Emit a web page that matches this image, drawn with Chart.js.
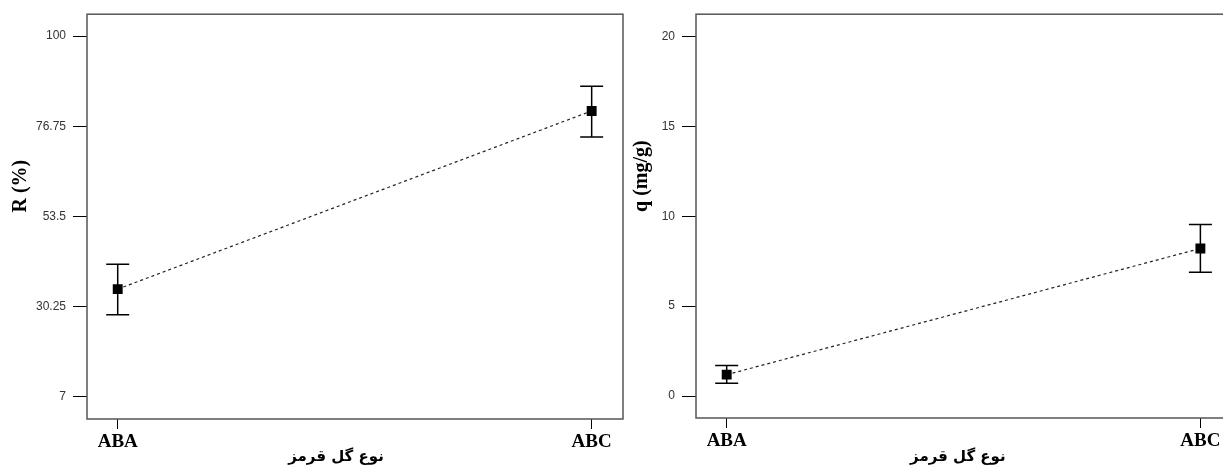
<!DOCTYPE html>
<html>
<head>
<meta charset="utf-8">
<script src="https://cdn.jsdelivr.net/npm/chart.js@4"></script>
<style>
    html, body { margin: 0; padding: 0; background: #fff; overflow: hidden; width: 1223px; height: 469px; }
    canvas { position: absolute; top: 0; }
    #chartR { left: 0; }
    #chartQ { left: 630px; }
</style>
</head>
<body>
<canvas id="chartR" width="630" height="469"></canvas>
<canvas id="chartQ" width="620" height="469"></canvas>
<script>
// ── Data ─────────────────────────────────────────────────
const categories = ['ABA', 'ABC'];
const catPos     = [0, 1];

const rMean  = [34.7, 80.7];
const rLow   = [28.1, 74.0];
const rHigh  = [41.1, 87.1];
const rTicks = [7, 30.25, 53.5, 76.75, 100];

const qMean  = [1.19, 8.21];
const qLow   = [0.71, 6.88];
const qHigh  = [1.70, 9.54];
const qTicks = [0, 5, 10, 15, 20];

const xTitle = 'نوع گل قرمز';

// ── Plugins ──────────────────────────────────────────────
// frame round the plot area
const framePlugin = {
    id: 'frame',
    afterDraw(chart) {
        const { ctx, chartArea: a } = chart;
        ctx.save();
        ctx.strokeStyle = '#555';
        ctx.lineWidth = 1.5;
        ctx.strokeRect(a.left, a.top, a.right - a.left, a.bottom - a.top);
        ctx.restore();
    }
};

// vertical error bars with caps, read from dataset.errLow / errHigh
const errorBarPlugin = {
    id: 'errorBars',
    afterDatasetsDraw(chart) {
        const { ctx, scales: { x, y } } = chart;
        ctx.save();
        ctx.strokeStyle = '#000';
        ctx.lineWidth = 1.5;
        chart.data.datasets.forEach(ds => {
            ds.data.forEach((p, i) => {
                const px = x.getPixelForValue(p.x);
                const lo = y.getPixelForValue(ds.errLow[i]);
                const hi = y.getPixelForValue(ds.errHigh[i]);
                ctx.beginPath();
                ctx.moveTo(px, lo); ctx.lineTo(px, hi);
                ctx.moveTo(px - 11.5, lo); ctx.lineTo(px + 11.5, lo);
                ctx.moveTo(px - 11.5, hi); ctx.lineTo(px + 11.5, hi);
                ctx.stroke();
            });
        });
        ctx.restore();
    }
};

// axis titles placed relative to the plot area
const axisTitlePlugin = {
    id: 'axisTitles',
    afterDraw(chart, args, opts) {
        const { ctx, chartArea: a } = chart;
        ctx.save();
        ctx.fillStyle = '#000';
        ctx.textAlign = 'center';
        ctx.textBaseline = 'middle';
        // x title
        ctx.direction = 'rtl';
        ctx.font = 'bold 15px "DejaVu Sans"';
        ctx.fillText(opts.xText, (a.left + a.right) / 2 + opts.xdx, a.bottom + opts.xdy);
        // y title
        ctx.direction = 'ltr';
        ctx.font = 'bold 20px "Liberation Serif"';
        ctx.translate(opts.yx, (a.top + a.bottom) / 2 + opts.ydy);
        ctx.rotate(-Math.PI / 2);
        ctx.fillText(opts.yText, 0, 0);
        ctx.restore();
    }
};

// ── Chart builder ────────────────────────────────────────
function makeChart(id, cfg) {
    const points = catPos.map((x, i) => ({ x, y: cfg.mean[i] }));
    return new Chart(document.getElementById(id), {
        type: 'line',
        data: {
            datasets: [{
                data: points,
                errLow: cfg.low,
                errHigh: cfg.high,
                borderColor: '#222',
                borderWidth: 1.2,
                borderDash: [3, 3],
                pointStyle: 'rect',
                pointRadius: 7,
                pointBackgroundColor: '#000',
                pointBorderColor: '#000',
                pointBorderWidth: 0,
            }],
        },
        options: {
            responsive: false,
            animation: false,
            layout: { padding: { top: cfg.padTop, right: cfg.padRight, left: 0, bottom: 0 } },
            plugins: {
                legend: { display: false },
                tooltip: { enabled: false },
                axisTitles: cfg.titles,
            },
            scales: {
                x: {
                    type: 'linear',
                    min: -0.0648,
                    max: 1.0661,
                    afterFit: s => { s.height = cfg.xHeight; },
                    afterBuildTicks: s => { s.ticks = catPos.map(v => ({ value: v })); },
                    ticks: {
                        padding: 2,
                        color: '#000',
                        font: { family: 'Liberation Serif', size: 19, weight: 'bold' },
                        callback: v => categories[catPos.indexOf(v)],
                    },
                    grid: { drawOnChartArea: false, tickLength: 10, color: '#000', lineWidth: 1 },
                    border: { display: false },
                },
                y: {
                    min: cfg.yMin,
                    max: cfg.yMax,
                    afterFit: s => { s.width = cfg.yWidth; },
                    afterBuildTicks: s => { s.ticks = cfg.ticks.map(v => ({ value: v })); },
                    ticks: {
                        padding: 7,
                        color: '#333',
                        font: { family: 'Liberation Sans', size: 12 },
                        callback: v => String(v),
                    },
                    grid: { drawOnChartArea: false, tickLength: 14, color: '#000', lineWidth: 1 },
                    border: { display: false },
                },
            },
        },
        plugins: [framePlugin, errorBarPlugin, axisTitlePlugin],
    });
}

makeChart('chartR', {
    mean: rMean, low: rLow, high: rHigh, ticks: rTicks,
    yMin: 1.17, yMax: 105.67,
    padTop: 14, padRight: 7, xHeight: 50, yWidth: 87,
    titles: { xText: xTitle, xdx: -19, xdy: 38, yText: 'R (%)', yx: 20.5, ydy: -30.5 },
});

makeChart('chartQ', {
    mean: qMean, low: qLow, high: qHigh, ticks: qTicks,
    yMin: -1.22, yMax: 21.24,
    padTop: 13, padRight: 18.3, xHeight: 51, yWidth: 66,
    titles: { xText: xTitle, xdx: -6, xdy: 39, yText: 'q (mg/g)', yx: 11.5, ydy: -40 },
});
</script>
</body>
</html>
